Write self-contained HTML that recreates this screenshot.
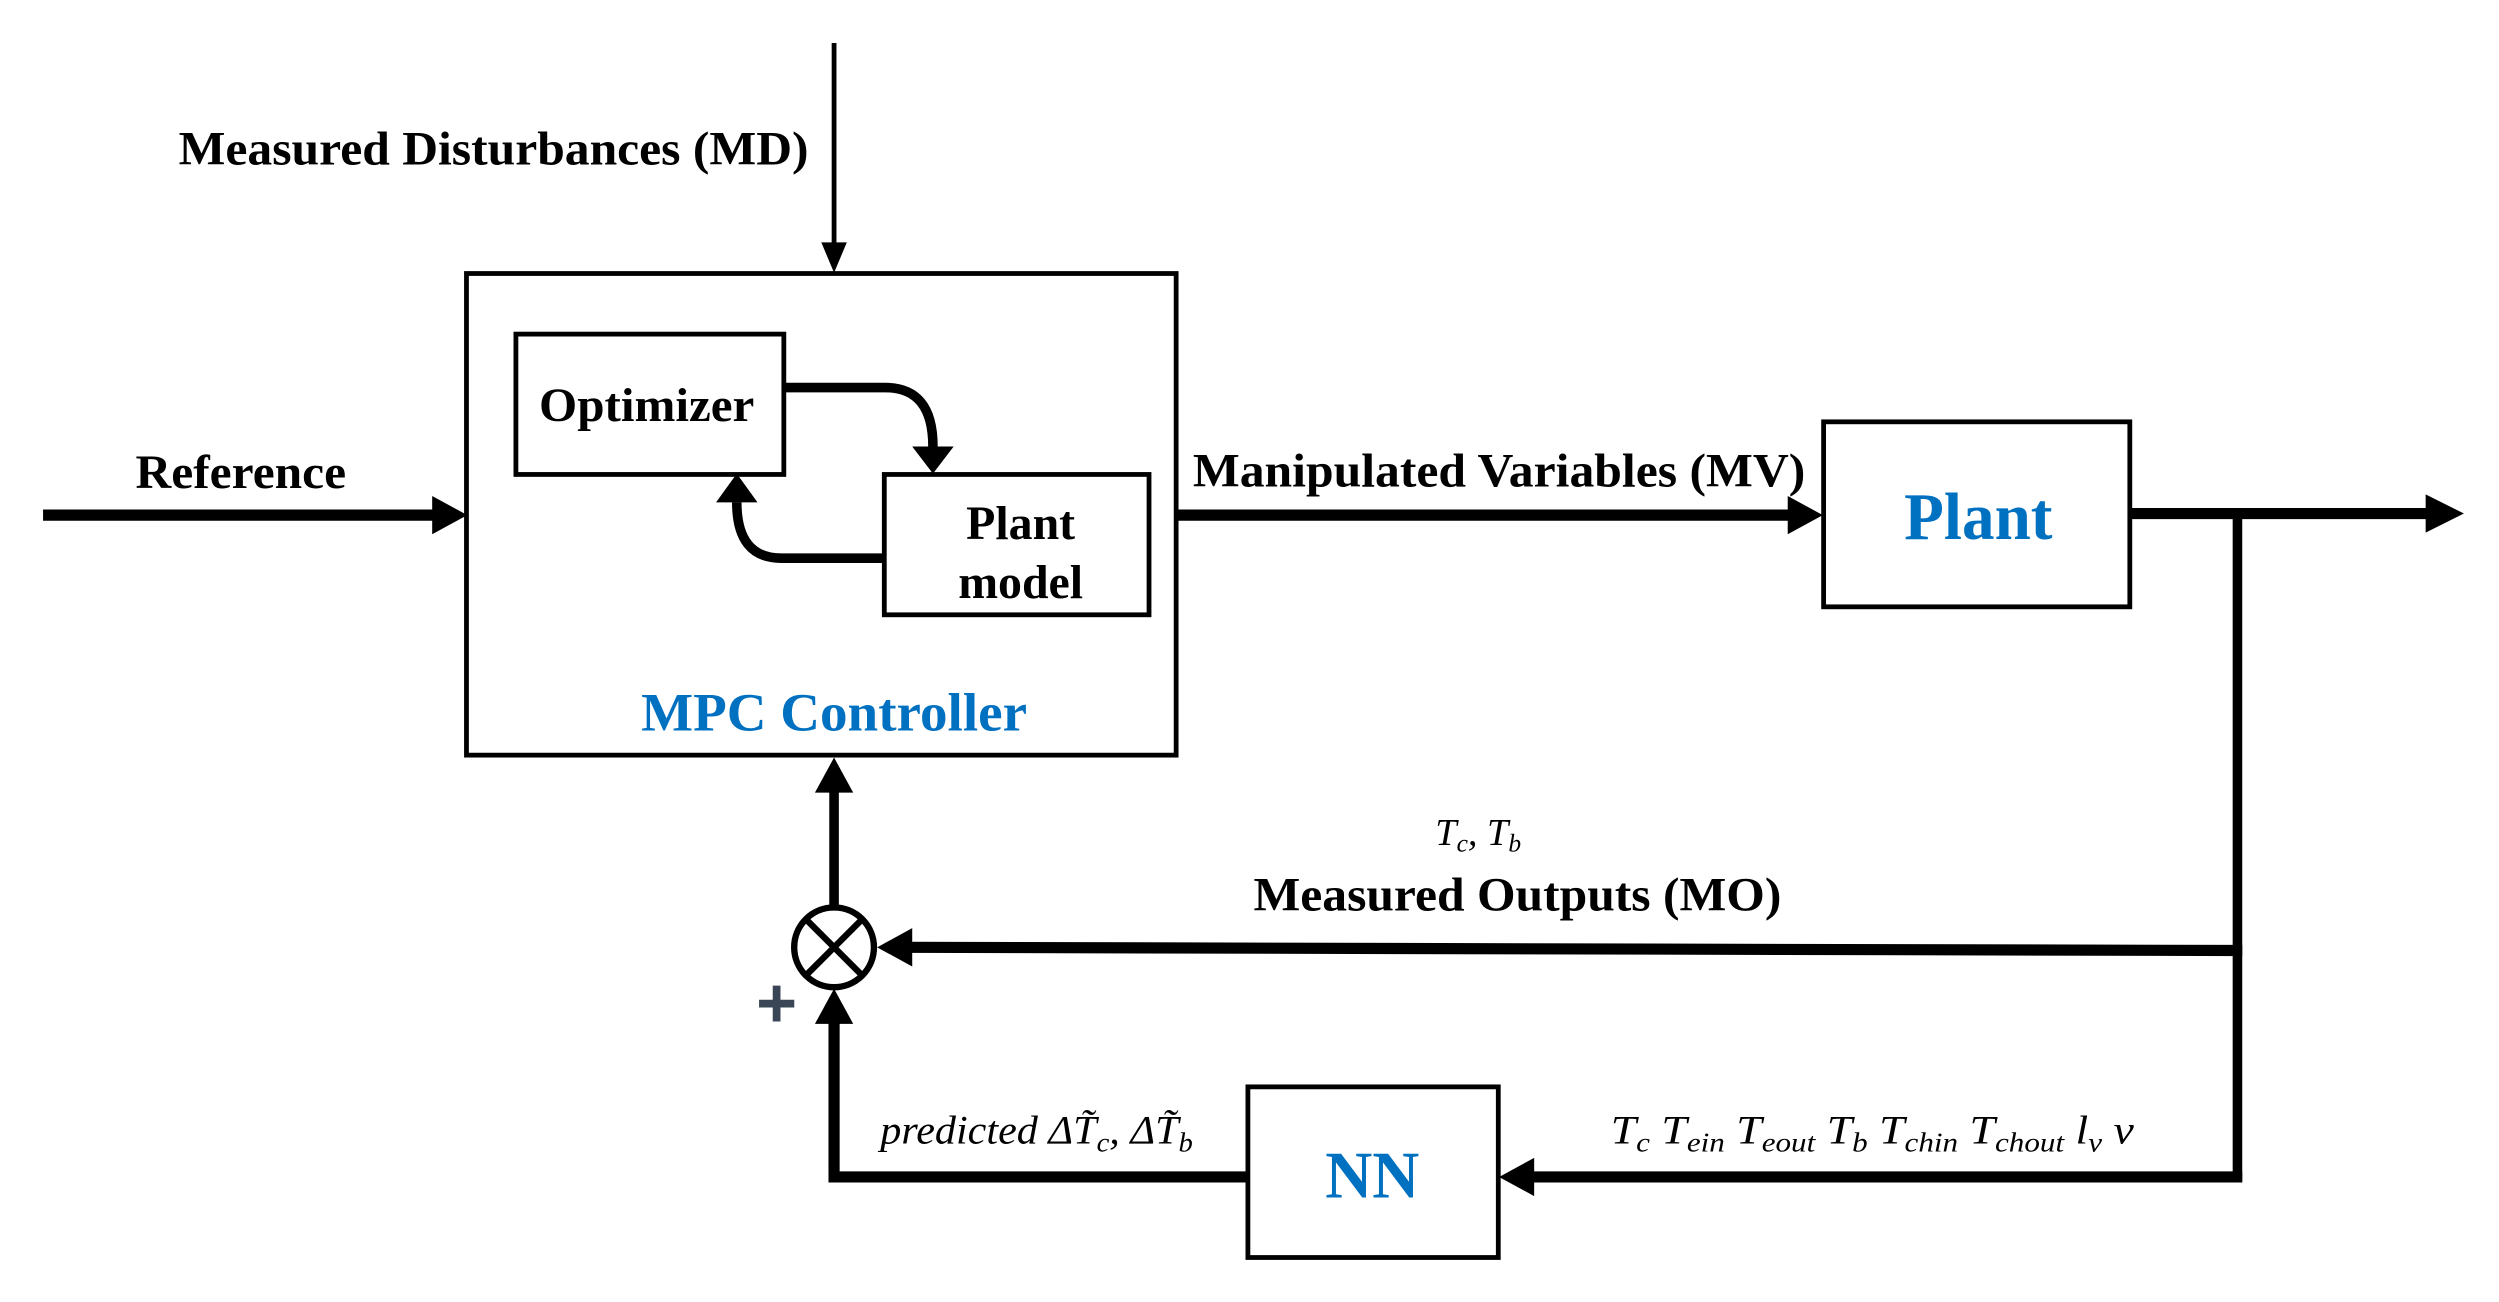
<!DOCTYPE html>
<html><head><meta charset="utf-8"><style>
html,body{margin:0;padding:0;background:#fff;}
svg{display:block;}
.b{font-family:"Liberation Serif",serif;font-weight:bold;fill:#000;}
.bl{font-family:"Liberation Serif",serif;font-weight:bold;fill:#0070C0;}
.it{font-family:"Liberation Serif",serif;font-style:italic;fill:#000;}
</style></head><body>
<svg width="2499" height="1302" viewBox="0 0 1567 816.4" preserveAspectRatio="none" xmlns="http://www.w3.org/2000/svg">
<g fill="none" stroke="#000">
<line x1="523" y1="27" x2="523" y2="158" stroke-width="3"/>
<rect x="292.5" y="171.5" width="445" height="302" stroke-width="3"/>
<rect x="323.5" y="209.5" width="168" height="88" stroke-width="3"/>
<rect x="554.5" y="297.5" width="166" height="88" stroke-width="3"/>
<path d="M492 243 H555 Q585 243 585 280" stroke-width="6"/>
<path d="M554 350 H490 Q462 350 462 315" stroke-width="6"/>
<line x1="27" y1="323" x2="275" y2="323" stroke-width="7"/>
<line x1="737" y1="323" x2="1125" y2="323" stroke-width="7"/>
<rect x="1143.5" y="264.5" width="192" height="116" stroke-width="3"/>
<line x1="1336" y1="322" x2="1525" y2="322" stroke-width="7"/>
<line x1="1403" y1="319" x2="1403" y2="741" stroke-width="6"/>
<line x1="1406" y1="596" x2="568" y2="594" stroke-width="7"/>
<circle cx="523" cy="594" r="25" stroke-width="4"/>
<line x1="505" y1="576" x2="541" y2="612" stroke-width="4"/>
<line x1="541" y1="576" x2="505" y2="612" stroke-width="4"/>
<line x1="1406" y1="738" x2="960" y2="738" stroke-width="7"/>
<rect x="782.5" y="681.5" width="157" height="107" stroke-width="3"/>
<polyline points="782,738 523,738 523,640" stroke-width="7"/>
<line x1="523" y1="569" x2="523" y2="495" stroke-width="6"/>
</g>
<g fill="#000">
<polygon points="515,152 531,152 523,171"/>
<polygon points="572,280 598,280 585,297"/>
<polygon points="449,315 475,315 462,297"/>
<polygon points="271,311 271,335 293,323"/>
<polygon points="1121,311 1121,335 1143,323"/>
<polygon points="1521,310 1521,334 1545,322"/>
<polygon points="572,582 572,606 550,594"/>
<polygon points="962,726 962,750 940,738"/>
<polygon points="511,642 535,642 523,620"/>
<polygon points="511,497 535,497 523,475"/>
</g>
<text class="b" x="112" y="103" font-size="30" textLength="395" lengthAdjust="spacingAndGlyphs">Measured Disturbances (MD)</text>
<text class="b" x="338" y="264" font-size="30" textLength="135" lengthAdjust="spacingAndGlyphs">Optimizer</text>
<text class="b" x="640" y="338" font-size="30" text-anchor="middle">Plant</text>
<text class="b" x="640" y="375" font-size="30" text-anchor="middle">model</text>
<text class="bl" x="402" y="458" font-size="34" textLength="242" lengthAdjust="spacingAndGlyphs">MPC Controller</text>
<text class="b" x="85" y="306" font-size="30" textLength="132" lengthAdjust="spacingAndGlyphs">Reference</text>
<text class="b" x="748" y="305" font-size="30" textLength="384" lengthAdjust="spacingAndGlyphs">Manipulated Variables (MV)</text>
<text class="bl" x="1194" y="338" font-size="42" textLength="93" lengthAdjust="spacingAndGlyphs">Plant</text>
<text class="bl" x="831" y="751" font-size="42" textLength="59" lengthAdjust="spacingAndGlyphs">NN</text>
<text class="it" x="900" y="530" font-size="24">T<tspan font-size="16" dy="4">c</tspan><tspan dy="-4">, T</tspan><tspan font-size="16" dy="4">b</tspan></text>
<text class="b" x="786" y="571" font-size="30" textLength="331" lengthAdjust="spacingAndGlyphs">Measured Outputs (MO)</text>
<text x="487" y="644" font-size="44" text-anchor="middle" font-family="Liberation Sans,sans-serif" font-weight="bold" fill="#3a4556">+</text>
<text class="it" x="552" y="717" font-size="25" textLength="196" lengthAdjust="spacingAndGlyphs">predicted ΔT̃<tspan font-size="17" dy="5">c</tspan><tspan dy="-5">, ΔT̃</tspan><tspan font-size="17" dy="5">b</tspan></text>
<text class="it" x="1010" y="717" font-size="25" textLength="328" lengthAdjust="spacingAndGlyphs">T<tspan font-size="17" dy="5">c</tspan><tspan dy="-5"> T</tspan><tspan font-size="17" dy="5">ein</tspan><tspan dy="-5"> T</tspan><tspan font-size="17" dy="5">eout</tspan><tspan dy="-5"> T</tspan><tspan font-size="17" dy="5">b</tspan><tspan dy="-5"> T</tspan><tspan font-size="17" dy="5">chin</tspan><tspan dy="-5"> T</tspan><tspan font-size="17" dy="5">chout</tspan><tspan dy="-5">  l</tspan><tspan font-size="17" dy="5">v</tspan><tspan dy="-5"> v</tspan></text>
</svg>
</body></html>
